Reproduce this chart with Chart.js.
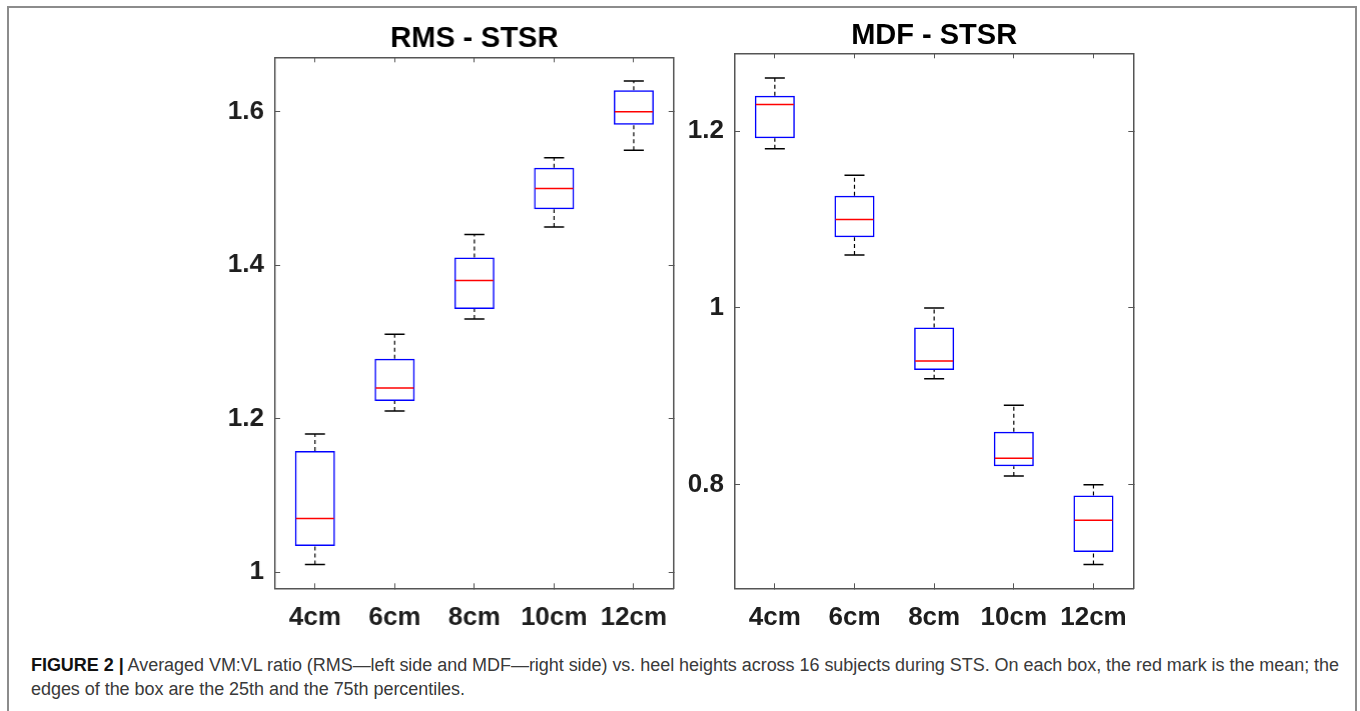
<!DOCTYPE html>
<html>
<head>
<meta charset="utf-8">
<script src="https://cdn.jsdelivr.net/npm/chart.js@4.4.1/dist/chart.umd.min.js"></script>
<style>
  body { margin: 0; background: #fff; }
  #frame {
    position: absolute; left: 7px; top: 6px; width: 1346px; height: 720px;
    border-top: 2px solid #8c8c8c; border-left: 2px solid #8c8c8c; border-right: 2px solid #8c8c8c;
  }
  .plot { position: absolute; top: 0; }
  #rmsWrap { left: 215px; width: 517.7px; height: 650px; }
  #mdfWrap { left: 675px; width: 518.3px; height: 650px; }
  #caption {
    position: absolute; left: 31px; top: 653px; width: 1320px;
    font-family: "Liberation Sans", Arial, sans-serif; font-size: 18px; line-height: 24px;
    color: #3a3a3a; white-space: nowrap;
  }
  #caption b { color: #111; }
</style>
</head>
<body>
<div id="frame"></div>
<div class="plot" id="rmsWrap"><canvas id="rmsChart"></canvas></div>
<div class="plot" id="mdfWrap"><canvas id="mdfChart"></canvas></div>
<div id="caption"><span id="line1"><b>FIGURE 2 |</b> Averaged VM:VL ratio (RMS—left side and MDF—right side) vs. heel heights across 16 subjects during STS. On each box, the red mark is the mean; the</span><br><span id="line2">edges of the box are the 25th and the 75th percentiles.</span></div>

<script>
// ---------------- data ----------------
var categories = ["4cm", "6cm", "8cm", "10cm", "12cm"];

// RMS - STSR
var rmsMin    = [1.01, 1.21, 1.33, 1.45, 1.55];
var rmsQ1     = [1.034, 1.223, 1.343, 1.473, 1.583];
var rmsMedian = [1.07, 1.24, 1.38, 1.50, 1.60];
var rmsQ3     = [1.158, 1.278, 1.41, 1.527, 1.628];
var rmsMax    = [1.18, 1.31, 1.44, 1.54, 1.64];
var rmsTicks  = [1, 1.2, 1.4, 1.6];

// MDF - STSR
var mdfMin    = [1.18, 1.06, 0.92, 0.81, 0.71];
var mdfQ1     = [1.192, 1.08, 0.93, 0.821, 0.724];
var mdfMedian = [1.23, 1.10, 0.94, 0.83, 0.76];
var mdfQ3     = [1.24, 1.127, 0.978, 0.86, 0.788];
var mdfMax    = [1.26, 1.15, 1.00, 0.89, 0.80];
var mdfTicks  = [0.8, 1, 1.2];

// stretch caption line 1 to the width it has in the figure
(function () {
    var line1 = document.getElementById("line1");
    var line2 = document.getElementById("line2");
    var target = 1308;
    var w = line1.getBoundingClientRect().width;
    var n = line1.textContent.length;
    var ls = (target - w) / n;
    line1.style.letterSpacing = ls + "px";
    line2.style.letterSpacing = ls + "px";
})();

// ---------------- helpers ----------------
function whiskerPoints(mins, q1s, q3s, maxs) {
    var pts = [];
    categories.forEach(function (c, i) {
        pts.push({x: c, y: q3s[i]}, {x: c, y: maxs[i]}, {x: c, y: null});
        pts.push({x: c, y: mins[i]}, {x: c, y: q1s[i]}, {x: c, y: null});
    });
    return pts;
}

var axisColor = "#555555";
var tickFont = {family: "'Liberation Sans', Arial, sans-serif", size: 26, weight: "bold"};

function makeBoxChart(id, title, titlePad, mins, q1s, meds, q3s, maxs, ticks, yMin, yMax) {
    var setTicks = function (scale) {
        scale.ticks = ticks.map(function (v) { return {value: v}; });
    };
    return new Chart(document.getElementById(id), {
        type: "bar",
        data: {
            labels: categories,
            datasets: [
                {
                    type: "line",
                    data: whiskerPoints(mins, q1s, q3s, maxs),
                    borderColor: "#000",
                    borderWidth: 1.2,
                    borderDash: [4, 3],
                    pointRadius: 0,
                    spanGaps: false,
                    order: 4
                },
                {
                    type: "line",
                    data: maxs,
                    showLine: false,
                    pointStyle: "line",
                    pointRadius: 10,
                    pointBorderColor: "#000",
                    pointBorderWidth: 1.5,
                    order: 3
                },
                {
                    type: "line",
                    data: mins,
                    showLine: false,
                    pointStyle: "line",
                    pointRadius: 10,
                    pointBorderColor: "#000",
                    pointBorderWidth: 1.5,
                    order: 3
                },
                {
                    data: q1s.map(function (v, i) { return [v, q3s[i]]; }),
                    backgroundColor: "rgba(255,255,255,0)",
                    borderColor: "#0000ff",
                    borderWidth: 1.5,
                    borderSkipped: false,
                    barPercentage: 0.503,
                    categoryPercentage: 1,
                    order: 2
                },
                {
                    type: "line",
                    data: meds,
                    showLine: false,
                    pointStyle: "line",
                    pointRadius: 19,
                    pointBorderColor: "#ff0000",
                    pointBorderWidth: 1.5,
                    order: 1
                }
            ]
        },
        options: {
            responsive: true,
            maintainAspectRatio: false,
            animation: false,
            layout: {padding: 0},
            plugins: {
                legend: {display: false},
                tooltip: {enabled: false},
                title: {
                    display: true,
                    text: title,
                    color: "#000",
                    font: {family: "'Liberation Sans', Arial, sans-serif", size: 29, weight: "bold", lineHeight: 1},
                    padding: titlePad
                }
            },
            scales: {
                x: {
                    offset: true,
                    grid: {offset: false, drawOnChartArea: false, tickLength: -5, tickColor: axisColor, tickWidth: 1},
                    border: {color: axisColor, width: 1.5},
                    ticks: {color: "#1e1e1e", font: tickFont, padding: 19, maxRotation: 0},
                    afterFit: function (s) { s.height = 61.7; }
                },
                x2: {
                    type: "category",
                    position: "top",
                    offset: true,
                    grid: {offset: false, drawOnChartArea: false, tickLength: -5, tickColor: axisColor, tickWidth: 1},
                    border: {color: axisColor, width: 1.5},
                    ticks: {display: false},
                    afterFit: function (s) { s.height = 0; }
                },
                y: {
                    min: yMin,
                    max: yMax,
                    afterBuildTicks: setTicks,
                    grid: {drawOnChartArea: false, tickLength: -5, tickColor: axisColor, tickWidth: 1},
                    border: {color: axisColor, width: 1.5},
                    ticks: {
                        color: "#1e1e1e", font: tickFont, padding: 16,
                        callback: function (v) { return String(v); }
                    },
                    afterFit: function (s) { s.width = 60; }
                },
                y2: {
                    type: "linear",
                    position: "right",
                    min: yMin,
                    max: yMax,
                    afterBuildTicks: setTicks,
                    grid: {drawOnChartArea: false, tickLength: -5, tickColor: axisColor, tickWidth: 1},
                    border: {color: axisColor, width: 1.5},
                    ticks: {display: false},
                    afterFit: function (s) { s.width = 60; }
                }
            }
        }
    });
}

makeBoxChart("rmsChart", "RMS - STSR", {top: 24, bottom: 4.3},
    rmsMin, rmsQ1, rmsMedian, rmsQ3, rmsMax, rmsTicks, 0.979, 1.671);

makeBoxChart("mdfChart", "MDF - STSR", {top: 21, bottom: 3.3},
    mdfMin, mdfQ1, mdfMedian, mdfQ3, mdfMax, mdfTicks, 0.683, 1.288);
</script>
</body>
</html>
